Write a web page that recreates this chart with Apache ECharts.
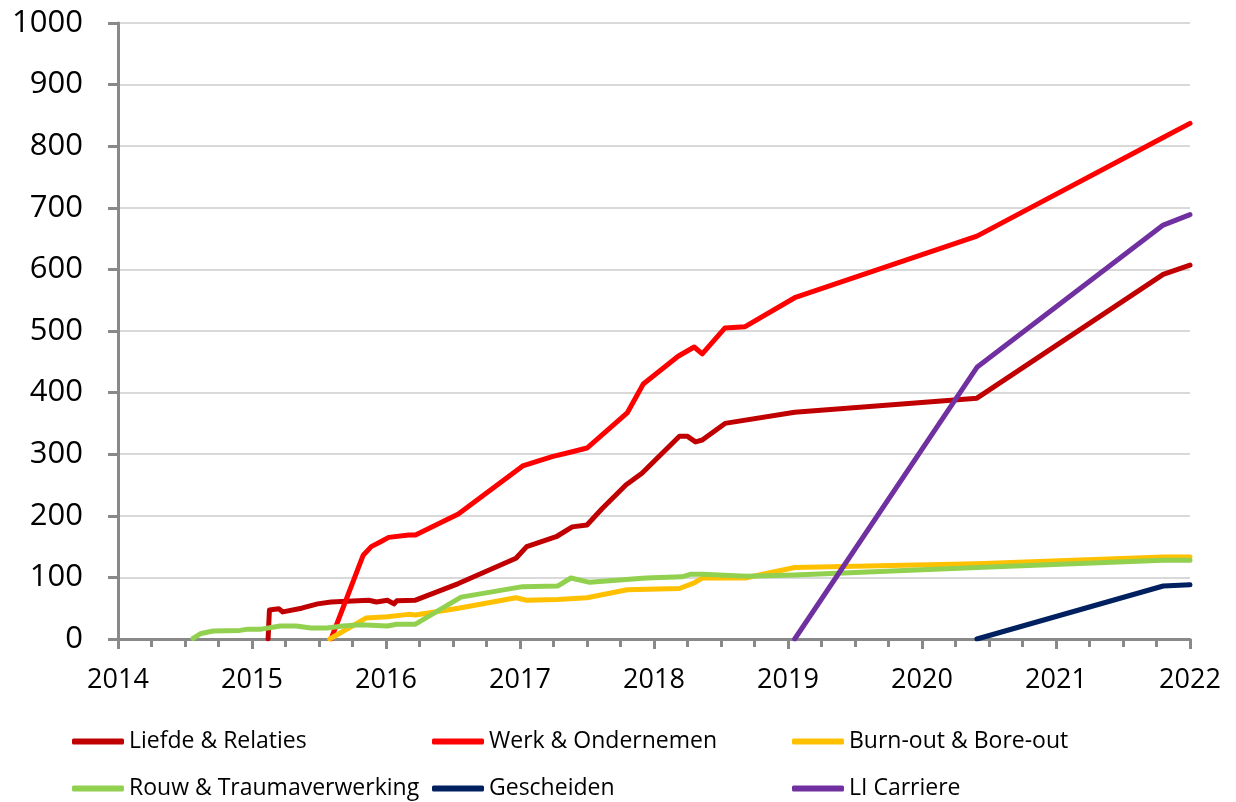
<!DOCTYPE html>
<html>
<head>
<meta charset="utf-8">
<title>Aantallen per categorie</title>
<script src="https://cdn.jsdelivr.net/npm/echarts@6/dist/echarts.min.js"></script>
<style>
  html, body { margin: 0; padding: 0; background: #fff; }
  #chart { width: 1236px; height: 802px; }
</style>
</head>
<body>
<div id="chart"></div>
<script>
// series names (legend order)
const seriesNames = [
  'Liefde & Relaties',
  'Werk & Ondernemen',
  'Burn-out & Bore-out',
  'Rouw & Traumaverwerking',
  'Gescheiden',
  'LI Carriere'
];

// [decimal year, value]
const liefdeRelaties = [
  [2015.12, 0], [2015.13, 47], [2015.20, 49], [2015.23, 44], [2015.37, 50],
  [2015.49, 57], [2015.59, 60], [2015.87, 63], [2015.93, 60], [2016.01, 63],
  [2016.06, 57], [2016.08, 62], [2016.22, 63], [2016.54, 90], [2016.97, 131],
  [2017.05, 150], [2017.27, 166], [2017.39, 182], [2017.50, 185], [2017.61, 211],
  [2017.79, 250], [2017.91, 269], [2018.19, 329], [2018.25, 329], [2018.31, 320],
  [2018.36, 323], [2018.53, 350], [2019.05, 368], [2020.41, 391], [2021.80, 592],
  [2022.00, 607]
];

const werkOndernemen = [
  [2015.59, 0], [2015.83, 136], [2015.89, 150], [2015.96, 158], [2016.02, 165],
  [2016.17, 169], [2016.22, 169], [2016.54, 203], [2017.02, 281], [2017.24, 296],
  [2017.39, 304], [2017.50, 310], [2017.80, 367], [2017.92, 414], [2018.18, 459],
  [2018.30, 474], [2018.36, 463], [2018.53, 505], [2018.68, 507], [2019.05, 554],
  [2020.41, 654], [2021.80, 814], [2022.00, 837]
];

const burnoutBoreout = [
  [2015.58, 0], [2015.85, 34], [2016.01, 36], [2016.17, 40], [2016.22, 39],
  [2016.54, 50], [2016.97, 67], [2017.05, 63], [2017.28, 64], [2017.50, 67],
  [2017.80, 80], [2018.19, 82], [2018.30, 91], [2018.36, 99], [2018.68, 99],
  [2019.05, 116], [2020.41, 122], [2021.80, 133], [2022.00, 133]
];

const rouwTrauma = [
  [2014.56, 1], [2014.62, 9], [2014.71, 13], [2014.91, 14], [2014.97, 16],
  [2015.07, 16], [2015.21, 21], [2015.33, 21], [2015.44, 18], [2015.56, 18],
  [2015.68, 21], [2015.81, 23], [2016.01, 21], [2016.08, 24], [2016.22, 24],
  [2016.56, 68], [2017.02, 85], [2017.28, 86], [2017.38, 99], [2017.52, 92],
  [2017.94, 99], [2018.21, 101], [2018.27, 105], [2018.36, 105], [2018.69, 102],
  [2019.05, 104], [2020.41, 116], [2021.80, 128], [2022.00, 128]
];

const gescheiden = [
  [2020.41, 0], [2021.80, 86], [2022.00, 88]
];

const liCarriere = [
  [2019.05, 0], [2020.41, 441], [2021.80, 672], [2022.00, 689]
];

const seriesData = [liefdeRelaties, werkOndernemen, burnoutBoreout, rouwTrauma, gescheiden, liCarriere];
const seriesColors = ['#C00000', '#FF0000', '#FFC000', '#92D050', '#002060', '#7030A0'];

// axis ranges
const xMin = 2014, xMax = 2022, xStep = 1;
const yMin = 0, yMax = 1000, yStep = 100;

const chart = echarts.init(document.getElementById('chart'));

const axisGrey = '#898989';
const fontFamily = '"Open Sans", "Liberation Sans", sans-serif';

// one legend per item so the three columns line up like the original
const legendCols = [72, 432, 792];
const legendRows = [730, 777];
const legends = seriesNames.map((name, i) => ({
  data: [name],
  left: legendCols[i % 3],
  top: legendRows[Math.floor(i / 3)],
  icon: 'roundRect',
  itemWidth: 52,
  itemHeight: 6,
  padding: 0,
  selectedMode: false,
  textStyle: { fontSize: 23, color: '#000', fontFamily: fontFamily }
}));

const option = {
  animation: false,
  backgroundColor: '#fff',
  color: seriesColors,
  legend: legends,
  grid: { left: 118, right: 46, top: 23, bottom: 163, containLabel: false },
  xAxis: {
    type: 'value',
    min: xMin,
    max: xMax,
    interval: xStep,
    axisLine: { show: true, lineStyle: { color: axisGrey, width: 3 } },
    axisTick: { show: true, length: 10, lineStyle: { color: axisGrey, width: 3 } },
    minorTick: { show: true, splitNumber: 4, length: 8, lineStyle: { color: axisGrey, width: 3 } },
    splitLine: { show: false },
    axisLabel: {
      margin: 28,
      fontSize: 27,
      color: '#000',
      fontFamily: fontFamily,
      formatter: v => String(v)
    }
  },
  yAxis: {
    type: 'value',
    min: yMin,
    max: yMax,
    interval: yStep,
    axisLine: { show: true, lineStyle: { color: axisGrey, width: 3 } },
    axisTick: { show: true, length: 10, lineStyle: { color: axisGrey, width: 3 } },
    splitLine: { show: true, lineStyle: { color: '#d9d9d9', width: 2 } },
    axisLabel: {
      margin: 35,
      fontSize: 31,
      color: '#000',
      fontFamily: fontFamily,
      formatter: v => String(v)
    }
  },
  series: seriesNames.map((name, i) => ({
    name: name,
    type: 'line',
    data: seriesData[i],
    showSymbol: false,
    symbol: 'none',
    lineStyle: { width: 5, color: seriesColors[i], cap: 'round', join: 'round' },
    itemStyle: { color: seriesColors[i] }
  }))
};

chart.setOption(option);
</script>
</body>
</html>
